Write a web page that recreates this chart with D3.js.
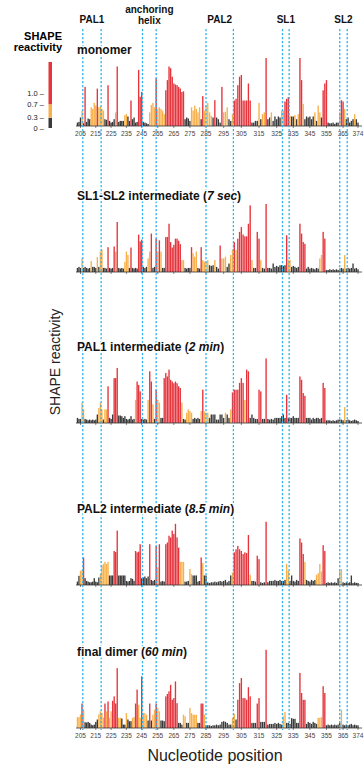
<!DOCTYPE html>
<html>
<head>
<meta charset="utf-8">
<script src="https://cdn.jsdelivr.net/npm/d3@7"></script>
<style>
  body { margin: 0; background: #fff; }
  svg { display: block; font-family: "Liberation Sans", Arial, sans-serif; }
</style>
</head>
<body>
<div id="chart"></div>
<script>
// nucleotide of the first value in every profile
const firstNt = 203;

const tickValues = [205, 215, 225, 235, 245, 255, 265, 275, 285, 295, 305, 315, 325, 335, 345, 355, 365, 374];

const regions = [
  {label: ["PAL1"], from: 206.5, to: 218.5},
  {label: ["anchoring", "helix"], from: 245.5, to: 254},
  {label: ["PAL2"], from: 285, to: 300.5},
  {label: ["SL1"], from: 328.5, to: 332.5},
  {label: ["SL2"], from: 363, to: 367.5}
];

const thresholds = [0.3, 0.7];
const legendTicks = [0, 0.3, 0.7, 1.0];

const panelTitles = [
  [["monomer", false]],
  [["SL1-SL2 intermediate (", false], ["7 sec", true], [")", false]],
  [["PAL1 intermediate (", false], ["2 min", true], [")", false]],
  [["PAL2 intermediate (", false], ["8.5 min", true], [")", false]],
  [["final dimer (", false], ["60 min", true], [")", false]]
];

const monomer = [
  0.10,0.12,0.25,0.45,0.08,1.15,0.12,0.22,0.20,0.55,
  0.50,0.68,0.60,1.10,0.55,0.58,0.50,0.45,0.20,0.18,
  1.20,0.15,0.10,0.12,0.20,0.40,1.75,0.12,0.15,0.15,
  0.15,0.32,0.35,0.28,0.15,0.75,0.20,0.25,0.10,0.12,
  1.65,0.86,1.00,0.12,0.10,0.08,0.06,0.40,0.62,0.68,
  0.55,1.40,0.50,0.55,0.50,0.45,0.35,1.05,1.35,1.75,
  1.70,1.45,1.25,1.22,1.20,1.15,1.10,1.00,1.02,0.20,
  0.25,0.22,0.15,0.55,0.45,0.60,0.50,0.40,0.55,0.20,
  0.88,0.45,0.62,0.68,0.40,0.30,0.25,0.76,0.25,0.20,
  0.10,1.15,0.40,0.42,0.55,0.20,0.15,0.35,0.75,0.80,
  1.20,1.45,1.50,0.75,0.75,0.75,1.25,0.75,0.10,0.10,
  0.15,0.15,0.68,0.20,0.35,0.40,2.00,0.20,0.25,0.40,
  0.15,0.28,0.20,0.28,0.25,0.45,0.45,0.72,0.80,0.85,
  0.30,0.28,0.28,0.32,0.20,0.35,2.00,1.35,0.65,0.20,
  0.28,0.25,0.28,0.20,0.28,0.40,0.15,0.60,0.40,0.25,
  1.05,1.25,1.35,0.10,0.08,0.08,0.10,0.06,0.10,0.10,
  0.40,0.76,0.72,0.50,0.20,0.25,0.10,0.15,0.20,0.35,
  0.20,0.10
];

const sl1sl2 = [
  0.12,0.15,0.12,0.40,0.12,0.15,0.12,0.10,0.12,0.32,
  0.15,0.15,0.12,0.44,0.15,0.60,0.66,0.12,0.12,0.10,
  0.73,0.12,0.10,0.12,0.75,0.60,1.47,0.12,0.10,0.12,
  0.10,0.30,0.60,0.50,0.12,0.72,0.12,0.10,0.12,0.10,
  1.10,0.90,0.95,0.15,0.12,0.15,0.40,0.60,1.13,0.12,
  0.15,0.98,0.60,0.93,0.60,0.12,0.12,1.03,1.03,1.42,
  0.88,0.72,0.80,0.98,0.98,0.92,0.82,0.35,0.35,0.12,
  0.10,0.12,0.12,0.73,0.55,0.45,0.60,0.12,0.10,0.73,
  0.35,0.30,0.30,0.35,0.20,0.18,0.20,0.35,0.15,0.10,
  0.78,0.40,0.40,0.45,0.15,0.25,0.50,0.66,0.88,0.65,
  0.98,1.18,1.32,1.10,1.05,1.05,1.42,1.96,0.35,0.12,
  0.12,1.18,0.98,0.35,0.12,0.10,2.00,0.12,0.12,0.10,
  0.25,0.15,0.18,0.15,0.20,0.20,0.18,0.20,1.08,0.35,
  0.35,0.15,0.18,0.15,0.12,0.15,1.42,1.13,0.88,0.83,
  0.10,0.15,0.10,0.12,0.10,0.08,0.12,0.10,0.40,0.50,
  1.18,0.98,0.06,0.06,0.08,0.06,0.08,0.06,0.08,0.06,
  0.10,0.12,0.10,0.50,0.10,0.12,0.10,0.12,0.25,0.10,
  0.12,0.08
];

const pal1 = [
  0.15,0.12,0.12,0.60,0.40,0.12,0.10,0.08,0.10,0.08,
  0.10,0.08,0.10,0.25,0.44,0.60,0.40,0.10,0.40,0.40,
  1.08,0.15,0.12,0.25,1.32,1.32,1.62,0.22,0.22,0.20,
  0.15,0.20,0.12,0.10,0.12,0.20,0.10,0.12,0.68,1.22,
  1.12,0.93,0.12,0.10,0.12,0.10,0.68,1.52,1.22,0.55,
  0.12,0.98,0.68,0.60,0.15,0.15,1.32,1.47,1.37,1.57,
  1.27,1.22,1.17,1.22,1.17,1.08,1.03,0.60,0.12,0.10,
  0.30,0.40,0.35,0.30,0.12,0.15,0.12,0.15,0.12,0.35,
  0.98,0.34,0.30,0.30,0.15,0.25,0.25,0.25,0.10,0.10,
  0.25,0.25,0.15,0.30,0.25,0.15,0.40,0.90,0.98,0.98,
  0.98,1.18,1.32,1.18,0.68,1.57,1.52,0.15,0.25,0.15,
  0.12,0.12,0.98,0.93,0.12,0.12,1.90,0.12,0.10,0.12,
  0.10,0.15,0.15,0.15,0.15,0.20,0.25,0.15,0.83,0.15,
  0.15,0.15,0.20,0.15,0.15,0.15,1.37,1.27,0.88,0.80,
  0.15,0.15,0.15,0.10,0.15,0.12,0.15,0.15,0.12,0.15,
  1.18,1.03,0.08,0.08,0.08,0.06,0.08,0.06,0.08,0.10,
  0.10,0.10,0.08,0.47,0.08,0.10,0.08,0.06,0.08,0.10,
  0.08,0.06
];

const pal2 = [
  0.10,0.27,0.42,0.45,0.81,0.20,0.12,0.10,0.08,0.08,
  0.10,0.20,0.10,0.08,0.22,0.32,0.57,0.62,0.68,0.62,
  0.68,0.28,0.28,0.28,1.00,0.97,1.60,0.28,0.28,0.28,
  0.28,0.28,0.12,0.10,0.12,0.20,0.18,0.12,1.00,0.96,
  0.98,1.20,0.20,0.22,0.25,0.20,0.25,1.20,0.15,0.12,
  0.15,1.15,0.52,1.20,0.10,0.12,0.10,1.20,1.25,1.45,
  1.40,1.60,1.50,1.80,1.40,1.10,0.68,0.68,0.68,0.10,
  0.10,0.12,0.47,0.32,0.28,0.28,0.28,0.10,0.12,0.81,
  0.65,0.28,0.28,0.08,0.06,0.08,0.08,0.10,0.08,0.10,
  0.12,0.10,0.12,0.15,0.08,0.12,0.28,0.37,0.96,1.05,
  1.15,1.05,1.00,0.91,0.96,0.94,1.47,0.30,0.12,0.12,
  0.10,0.86,0.76,0.08,0.06,0.08,1.86,0.08,0.12,0.12,
  0.12,0.15,0.12,0.12,0.15,0.12,0.12,0.15,0.62,0.42,
  0.12,0.28,0.12,0.10,0.15,0.12,1.37,1.25,0.91,0.68,
  0.15,0.12,0.10,0.15,0.12,0.15,0.30,0.35,0.62,0.40,
  1.17,1.00,0.06,0.08,0.06,0.08,0.06,0.08,0.06,0.20,
  0.42,0.47,0.08,0.06,0.08,0.06,0.08,0.28,0.06,0.08,
  0.06,0.06
];

const finalDimer = [
  0.32,0.32,0.40,0.72,0.54,0.17,0.16,0.18,0.15,0.10,
  0.08,0.10,0.18,0.25,0.40,0.49,0.44,0.30,0.72,0.49,
  0.78,0.30,0.49,0.80,0.93,0.72,1.76,0.30,0.30,0.28,
  0.10,0.10,0.44,0.25,0.20,0.20,0.30,0.32,0.72,1.13,
  0.68,0.30,1.52,0.44,0.44,0.39,0.22,0.72,0.22,0.39,
  0.54,0.72,0.59,0.49,0.22,0.22,0.20,0.93,1.00,1.08,
  1.27,0.83,0.88,1.37,0.73,0.15,0.15,0.10,0.39,0.34,
  0.15,0.15,0.59,0.44,0.39,0.39,0.39,0.15,0.15,0.72,
  0.72,0.39,0.08,0.08,0.08,0.06,0.08,0.08,0.10,0.08,
  0.10,0.18,0.20,0.18,0.15,0.10,0.10,0.30,0.41,0.25,
  0.83,1.32,1.47,0.88,0.88,0.83,1.20,0.93,0.15,0.15,
  0.15,0.72,0.88,0.18,0.18,0.18,2.30,0.10,0.12,0.12,
  0.12,0.15,0.12,0.15,0.12,0.10,0.34,0.47,0.15,0.15,
  0.12,0.29,0.27,0.27,0.15,0.15,1.62,1.03,0.83,0.83,
  0.12,0.18,0.15,0.12,0.18,0.15,0.12,0.30,0.30,0.32,
  1.23,1.03,0.08,0.10,0.08,0.10,0.08,0.10,0.08,0.10,
  0.15,0.54,0.10,0.08,0.10,0.08,0.10,0.12,0.08,0.10,
  0.08,0.08
];

const profiles = [monomer, sl1sl2, pal1, pal2, finalDimer];

const width = 364, height = 768;
const baselines = [126, 272, 423, 585, 728];
const colors = ["#3a3a3a", "#f8b04a", "#e5343c"];

const svg = d3.select("#chart").append("svg")
  .attr("width", width)
  .attr("height", height);

// the published axis is slightly uneven, so the scale is piecewise
const x = d3.scaleLinear()
  .domain([205, 245, 285, 325, 374])
  .range([80.5, 141.7, 206, 276.7, 358]);

const h = d3.scaleLinear().domain([0, 2]).range([0, 68]);
const color = d3.scaleThreshold().domain(thresholds).range(colors);

// legend
const yLeg = d3.scaleLinear().domain([0, 1.94]).range([128, 62]);
const legendBands = [[0, 0.3], [0.3, 0.7], [0.7, 1.94]];
svg.append("g").selectAll("rect")
  .data(legendBands)
  .join("rect")
  .attr("x", 48.5)
  .attr("width", 3.5)
  .attr("y", d => yLeg(d[1]))
  .attr("height", d => yLeg(d[0]) - yLeg(d[1]))
  .attr("fill", d => color(d[0]));

svg.append("g").selectAll("text")
  .data(legendTicks)
  .join("text")
  .attr("x", 44)
  .attr("y", d => yLeg(d) + 2.5)
  .attr("text-anchor", "end")
  .style("font-size", "7.5px")
  .attr("fill", "#222")
  .text(d => (d === 0 ? "0" : d.toFixed(1)) + " \u2013");

svg.append("text")
  .attr("x", 62).attr("y", 40)
  .attr("text-anchor", "end")
  .style("font-size", "11px").style("font-weight", "bold")
  .text("SHAPE");
svg.append("text")
  .attr("x", 62).attr("y", 51)
  .attr("text-anchor", "end")
  .style("font-size", "11px").style("font-weight", "bold")
  .text("reactivity");

// panels
profiles.forEach((values, i) => {
  const base = baselines[i];
  const g = svg.append("g");

  g.selectAll("rect")
    .data(values)
    .join("rect")
    .attr("x", (d, j) => x(firstNt + j) - 0.68)
    .attr("width", 1.36)
    .attr("y", d => base - h(d))
    .attr("height", d => h(d))
    .attr("fill", d => color(d));

  const axis = g.append("g").attr("transform", `translate(0,${base})`);
  axis.append("line")
    .attr("x1", 76).attr("x2", 362)
    .attr("stroke", "#333").attr("stroke-width", 0.8);
  axis.selectAll("line.tick")
    .data(tickValues)
    .join("line")
    .attr("class", "tick")
    .attr("x1", d => x(d)).attr("x2", d => x(d))
    .attr("y1", 0).attr("y2", 2)
    .attr("stroke", "#333").attr("stroke-width", 0.6);

  if (i === 0 || i === profiles.length - 1) {
    axis.selectAll("text")
      .data(tickValues)
      .join("text")
      .attr("x", d => x(d))
      .attr("y", 9.5)
      .attr("text-anchor", "middle")
      .style("font-size", "6.5px")
      .attr("fill", "#444")
      .text(d => d);
  }
});

// region boundaries
const bounds = regions.flatMap(r => [r.from, r.to]);
svg.append("g").selectAll("line")
  .data(bounds)
  .join("line")
  .attr("x1", d => x(d)).attr("x2", d => x(d))
  .attr("y1", 29).attr("y2", 730)
  .attr("stroke", "#2fb4f0")
  .attr("stroke-width", 1.3)
  .attr("stroke-dasharray", "2.2,1.8");

// panel titles, knocked out over the dashed lines
profiles.forEach((values, i) => {
  const t = svg.append("text")
    .attr("x", 77)
    .attr("y", baselines[i] - 72)
    .style("font-size", "12px")
    .style("font-weight", "bold")
    .attr("fill", "#111")
    .attr("stroke", "#fff").attr("stroke-width", 3)
    .style("paint-order", "stroke");
  panelTitles[i].forEach(([s, it]) => {
    t.append("tspan").style("font-style", it ? "italic" : "normal").text(s);
  });
});

// region names
regions.forEach(r => {
  const cx = (x(r.from) + x(r.to)) / 2;
  r.label.forEach((s, k) => {
    svg.append("text")
      .attr("x", cx)
      .attr("y", r.label.length > 1 ? 13 + k * 10.5 : 23)
      .attr("text-anchor", "middle")
      .style("font-size", "10px")
      .style("font-weight", "bold")
      .attr("fill", "#111")
      .text(s);
  });
});

svg.append("text")
  .attr("transform", "translate(60,362) rotate(-90)")
  .attr("text-anchor", "middle")
  .style("font-size", "14px")
  .attr("fill", "#222")
  .text("SHAPE reactivity");

svg.append("text")
  .attr("x", 215).attr("y", 761)
  .attr("text-anchor", "middle")
  .style("font-size", "16px")
  .attr("fill", "#222")
  .text("Nucleotide position");
</script>
</body>
</html>
